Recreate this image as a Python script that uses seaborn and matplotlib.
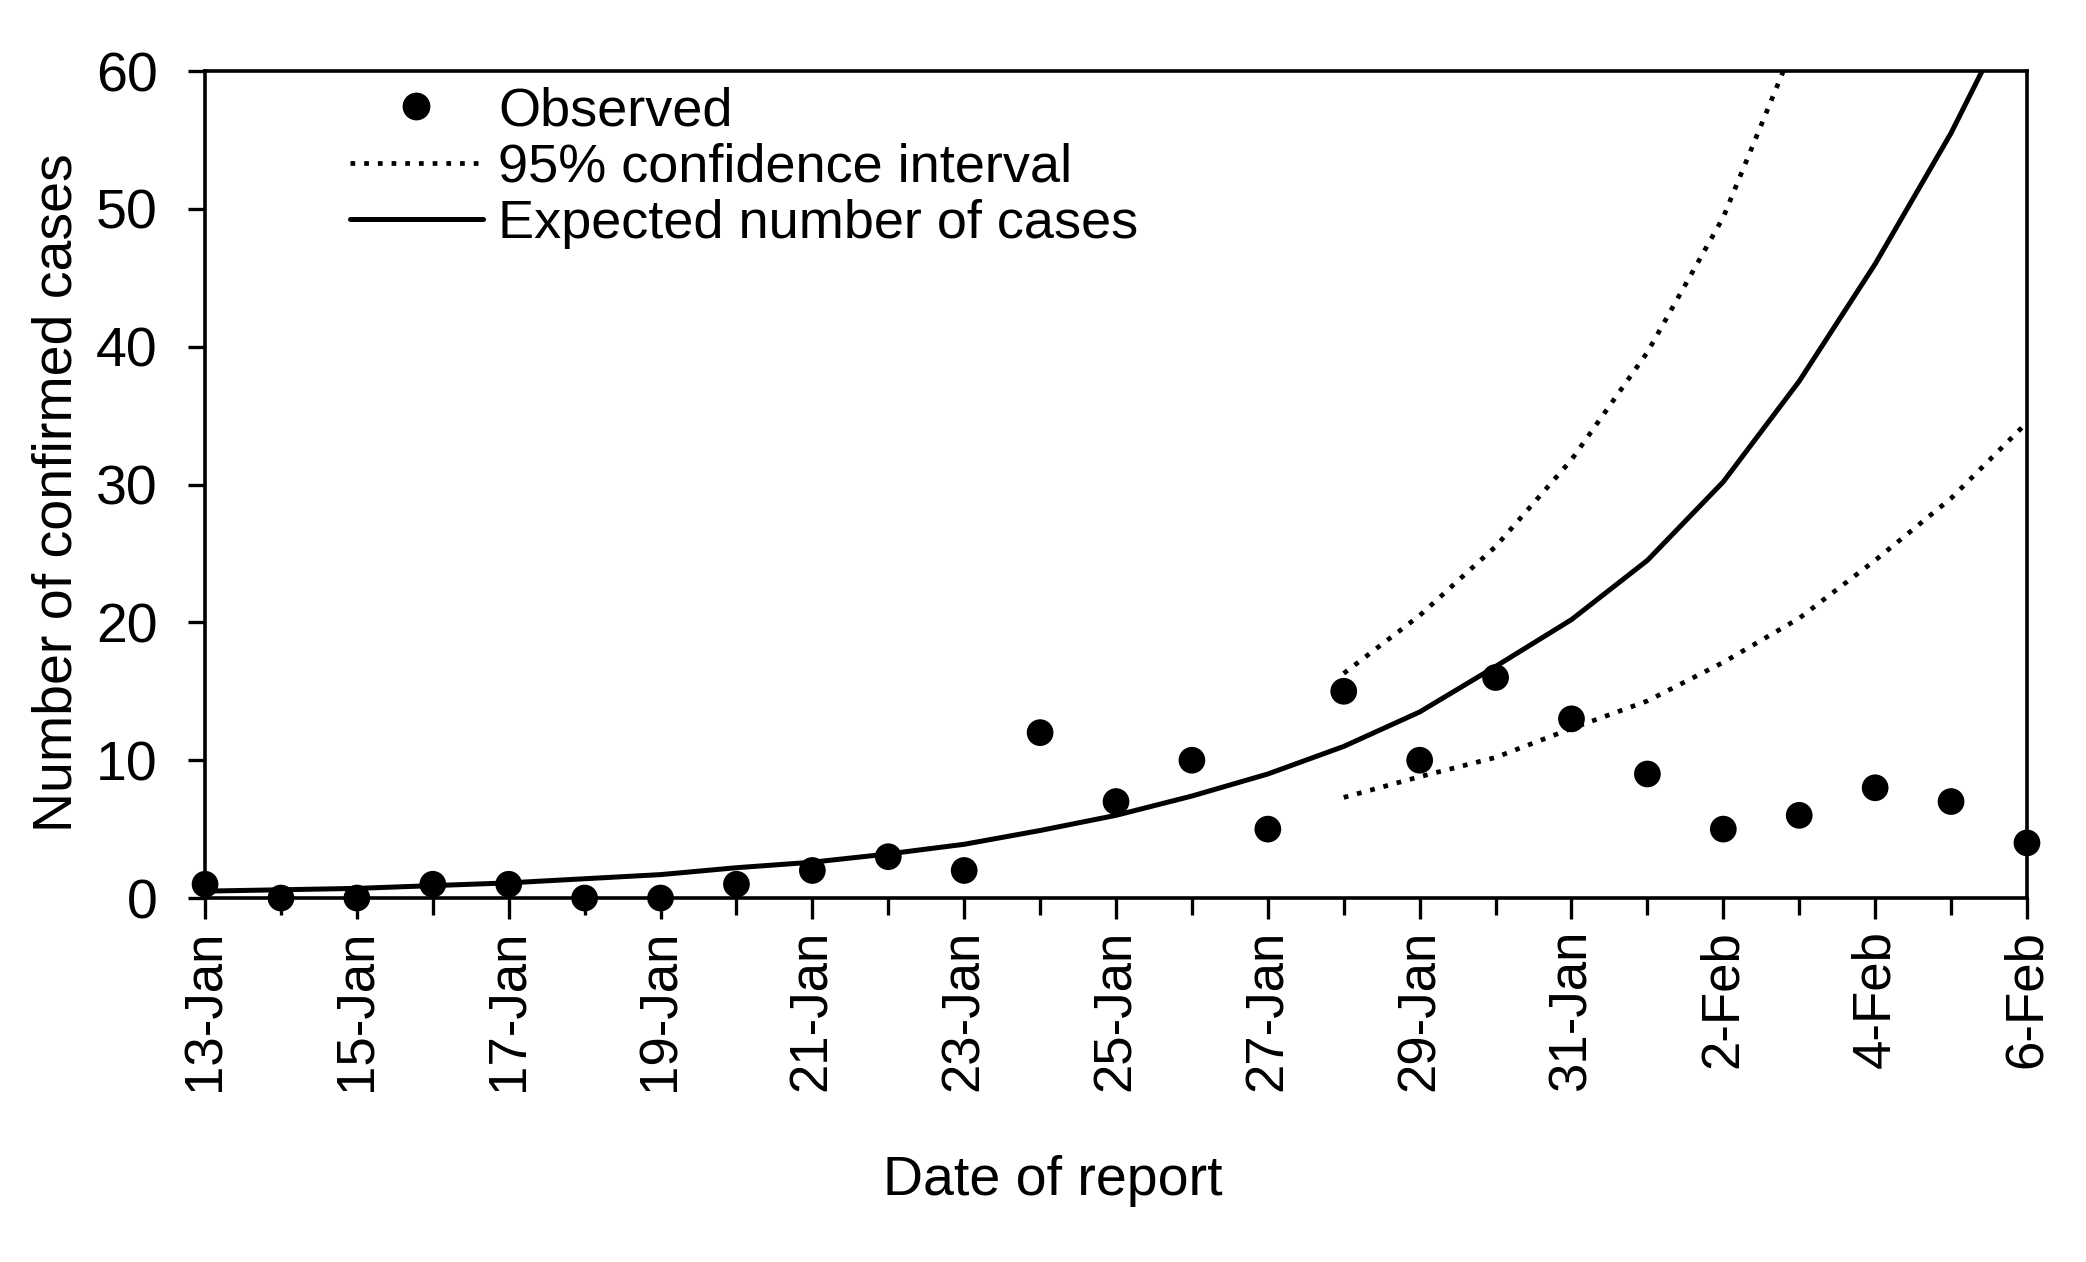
import numpy as np
import pandas as pd
import seaborn as sns
import matplotlib.pyplot as plt
from matplotlib.lines import Line2D

# report dates, one per day
dates = ['13-Jan', '14-Jan', '15-Jan', '16-Jan', '17-Jan', '18-Jan', '19-Jan',
         '20-Jan', '21-Jan', '22-Jan', '23-Jan', '24-Jan', '25-Jan', '26-Jan',
         '27-Jan', '28-Jan', '29-Jan', '30-Jan', '31-Jan', '1-Feb', '2-Feb',
         '3-Feb', '4-Feb', '5-Feb', '6-Feb']

observed = [1, 0, 0, 1, 1, 0, 0, 1, 2, 3, 2, 12, 7, 10, 5, 15, 10, 16, 13,
            9, 5, 6, 8, 7, 4]

expected = [0.5, 0.6, 0.7, 0.9, 1.1, 1.4, 1.7, 2.2, 2.6, 3.2, 3.9, 4.9, 6.0,
            7.4, 9.0, 11.0, 13.5, 16.8, 20.2, 24.5, 30.2, 37.5, 46.0, 55.5, 66.5]

# confidence bounds start on 28-Jan
ci_dates = ['28-Jan', '29-Jan', '30-Jan', '31-Jan', '1-Feb', '2-Feb', '3-Feb',
            '4-Feb', '5-Feb', '6-Feb']
ci_upper = [16.3, 20.5, 25.5, 31.8, 39.6, 49.4, 62.8, None, None, None]
ci_lower = [7.3, 8.8, 10.2, 12.3, 14.3, 17.1, 20.3, 24.5, 29.0, 34.5]

day = np.arange(len(dates))
df = pd.DataFrame({'day': day, 'observed': observed, 'expected': expected})
ci = pd.DataFrame({'day': [dates.index(d) for d in ci_dates],
                   'upper': ci_upper, 'lower': ci_lower})

sns.set_style('ticks')
plt.rcParams['font.family'] = ['Liberation Sans', 'DejaVu Sans']
for key in ['text.color', 'axes.labelcolor', 'xtick.color', 'ytick.color',
            'axes.edgecolor']:
    plt.rcParams[key] = 'black'

dotted = (0, (1, 1.9))

fig, ax = plt.subplots(figsize=(20.86, 12.62), dpi=100)
fig.subplots_adjust(left=0.0983, right=0.9717, top=0.9437, bottom=0.2884)

sns.lineplot(data=df, x='day', y='expected', color='black', lw=3.6, ax=ax)
sns.lineplot(data=ci.dropna(), x='day', y='upper', color='black', lw=3.4,
             linestyle=dotted, ax=ax)
sns.lineplot(data=ci, x='day', y='lower', color='black', lw=3.4,
             linestyle=dotted, ax=ax)
sns.scatterplot(data=df, x='day', y='observed', color='black', s=370,
                edgecolor='none', clip_on=False, zorder=5, ax=ax)

ax.set_xlim(0, len(dates) - 1)
ax.set_ylim(0, 60)
ax.set_yticks(range(0, 61, 10))
ax.set_xticks(day[::2])
ax.set_xticklabels(dates[::2], rotation=90)
ax.set_xticks(day[1::2], minor=True)
ax.tick_params(axis='x', which='major', labelsize=38, length=15, width=2.4,
               pad=8)
ax.tick_params(axis='x', which='minor', length=12, width=2.4)
ax.tick_params(axis='y', labelsize=40, length=12, width=2.4, pad=22)
for sp in ax.spines.values():
    sp.set_linewidth(2.6)

ax.set_xlabel('Date of report', fontsize=40, va='baseline')
ax.xaxis.set_label_coords(0.4654, -0.359)
ax.set_ylabel('Number of confirmed cases', fontsize=40, va='center')
ax.yaxis.set_label_coords(-0.081, 0.49)

handles = [Line2D([], [], marker='o', color='black', linestyle='none',
                  markersize=19),
           Line2D([], [], color='black', lw=3.4, linestyle=dotted),
           Line2D([], [], color='black', lw=3.6)]
labels = ['Observed', '95% confidence interval', 'Expected number of cases']
ax.legend(handles, labels, loc='upper left', bbox_to_anchor=(0.0675, 1.008),
          frameon=False, fontsize=39, handlelength=2.46, handletextpad=0.28,
          labelspacing=0.12, borderaxespad=0)

fig.savefig('out.png', dpi=100)
